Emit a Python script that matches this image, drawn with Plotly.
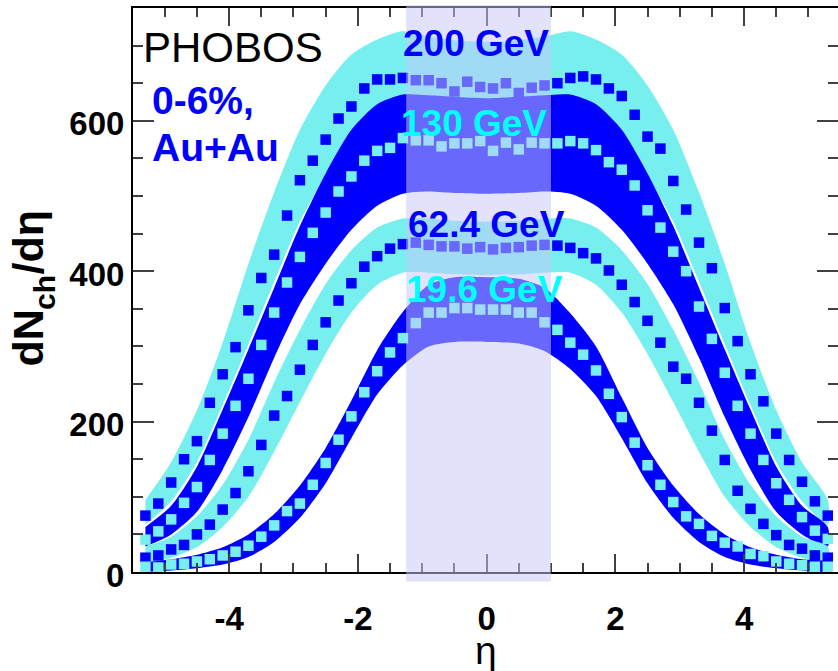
import plotly.graph_objects as go

# ---------------- data ----------------
ETA = [-5.3, -5.1, -4.9, -4.7, -4.5, -4.3, -4.1, -3.9, -3.7, -3.5, -3.3, -3.1, -2.9, -2.7,
       -2.5, -2.3, -2.1, -1.9, -1.7, -1.5, -1.3, -1.1, -0.9, -0.7, -0.5, -0.3, -0.1,
       0.1, 0.3, 0.5, 0.7, 0.9, 1.1, 1.3, 1.5, 1.7, 1.9, 2.1, 2.3, 2.5, 2.7, 2.9, 3.1,
       3.3, 3.5, 3.7, 3.9, 4.1, 4.3, 4.5, 4.7, 4.9, 5.1, 5.3]

DN_200 = [75, 91, 119, 150, 174, 225, 263, 299, 348, 391, 422, 474, 521, 547, 575, 603, 619,
          643, 655, 655, 657, 654, 654, 650, 639, 652, 645,
          643, 650, 637, 644, 647, 650, 657, 659, 655, 643, 633, 608, 579, 563, 520, 482,
          438, 404, 351, 307, 263, 227, 184, 149, 120, 94, 75]
DN_130 = [43, 54, 70, 92, 113, 149, 184, 221, 257, 302, 345, 385, 419, 451, 478, 506, 526,
          547, 560, 564, 577, 574, 574, 566, 570, 570, 573,
          560, 571, 562, 571, 570, 570, 573, 570, 561, 545, 535, 514, 481, 458, 426, 400,
          353, 310, 265, 221, 184, 149, 118, 96, 73, 55, 44]
DN_62 = [19, 22, 30, 36, 50, 63, 83, 105, 134, 169, 208, 234, 269, 302, 332, 361, 384,
         406, 420, 430, 436, 438, 435, 433, 433, 430, 432,
         429, 431, 432, 434, 435, 434, 431, 424, 417, 401, 382, 359, 334, 305, 273, 257,
         225, 188, 149, 108, 84, 64, 49, 36, 31, 22, 19]
DN_19 = [7, 6, 10, 11, 14, 17, 22, 27, 35, 47, 62, 81, 91, 116, 145, 176, 207,
         239, 267, 292, 311, 331, 345, 345, 351, 351, 349,
         349, 349, 345, 345, 332, 322, 305, 289, 268, 237, 206, 172, 142, 116, 93, 74,
         64, 48, 39, 34, 24, 21, 14, 11, 9, 7, 7]

# systematic-error bands (upper / lower edges)
BAND_ETA = [-5.3, -4.9, -4.5, -4.1, -3.7, -3.3, -2.9, -2.5, -2.1, -1.7, -1.3, -0.9, -0.5, 0.0,
            0.5, 0.9, 1.3, 1.7, 2.1, 2.5, 2.9, 3.3, 3.7, 4.1, 4.5, 4.9, 5.3]
BAND_200_HI = [96, 146, 215, 305, 410, 505, 588, 647, 688, 708, 719, 712, 707, 705,
               707, 712, 719, 708, 688, 647, 588, 505, 410, 305, 215, 146, 96]
BAND_200_LO = [63, 94, 146, 222, 303, 386, 466, 526, 570, 595, 598, 596, 594, 592,
               594, 596, 598, 595, 570, 526, 466, 386, 303, 222, 146, 94, 63]
BAND_130_HI = [60, 88, 140, 216, 296, 378, 460, 530, 588, 622, 635, 634, 632, 630,
               632, 634, 635, 622, 588, 530, 460, 378, 296, 216, 140, 88, 60]
BAND_130_LO = [34, 50, 80, 136, 206, 285, 356, 410, 455, 487, 503, 506, 504, 503,
               504, 506, 503, 487, 455, 410, 356, 285, 206, 136, 80, 50, 34]
BAND_62_HI = [34, 47, 74, 116, 176, 252, 322, 383, 428, 458, 470, 470, 467, 466,
              467, 470, 470, 458, 428, 383, 322, 252, 176, 116, 74, 47, 34]
BAND_62_LO = [12, 19, 33, 60, 100, 160, 226, 290, 345, 382, 398, 398, 396, 395,
              396, 398, 398, 382, 345, 290, 226, 160, 100, 60, 33, 19, 12]
BAND_19_HI = [13, 17, 23, 33, 50, 77, 115, 165, 228, 295, 346, 382, 392, 392,
              390, 378, 344, 300, 232, 165, 115, 77, 50, 33, 23, 17, 13]
BAND_19_LO = [0, 2, 5, 10, 20, 40, 72, 118, 178, 236, 275, 300, 306, 306,
              304, 294, 270, 234, 178, 118, 72, 40, 20, 10, 5, 2, 0]

X_TICKS = [-4, -2, 0, 2, 4]
X_TICK_TEXT = ["-4", "-2", "0", "2", "4"]
HIGHLIGHT_ETA = [-1.25, 1.0]

# ---------------- styling ----------------
BLUE = "#0000FF"
CYAN = "#78EFEF"
CYAN_TEXT = "#00FFFF"
FONT = "Liberation Sans, Arial, Helvetica, sans-serif"
W, H = 838, 671
L, T, PW, PH = 133, 8, 705, 564
XR = [-5.493, 5.459]
YR = [0, 750]


def px(x):
    return (x - L) / PW


def py(y):
    return (T + PH - y) / PH


fig = go.Figure()


def add_band(hi, lo, color):
    fig.add_trace(go.Scatter(
        x=BAND_ETA + BAND_ETA[::-1], y=hi + lo[::-1],
        mode="lines", fill="toself", fillcolor=color,
        line=dict(width=0, color=color, shape="spline", smoothing=0.7),
        hoverinfo="skip", showlegend=False))


def add_points(vals, color):
    fig.add_trace(go.Scatter(
        x=ETA, y=vals, mode="markers",
        marker=dict(symbol="square", size=10.5, color=color, line=dict(width=0)),
        showlegend=False))


add_band(BAND_200_HI, BAND_200_LO, CYAN)
add_band(BAND_130_HI, BAND_130_LO, BLUE)
add_band(BAND_62_HI, BAND_62_LO, CYAN)
add_band(BAND_19_HI, BAND_19_LO, BLUE)
add_points(DN_200, BLUE)
add_points(DN_130, CYAN)
add_points(DN_62, BLUE)
add_points(DN_19, CYAN)

# highlighted mid-rapidity region (drawn above the data)
x0p = (HIGHLIGHT_ETA[0] - XR[0]) / (XR[1] - XR[0])
x1p = (HIGHLIGHT_ETA[1] - XR[0]) / (XR[1] - XR[0])
fig.add_shape(type="rect", xref="paper", yref="paper", x0=x0p, x1=x1p,
              y0=py(581.5), y1=py(5), fillcolor="rgb(200,200,250)", opacity=0.52,
              line=dict(width=0), layer="above")

tick_common = dict(ticks="inside", tickcolor="#404040", tickwidth=1.5,
                   showgrid=False, zeroline=False, showline=True, linecolor="black",
                   linewidth=2, mirror="ticks", automargin=False)

fig.update_xaxes(range=XR, tickmode="array", tickvals=X_TICKS, ticktext=X_TICK_TEXT,
                 ticklen=18, ticklabelstandoff=16,
                 minor=dict(ticks="inside", ticklen=9, tickmode="linear", tick0=0, dtick=0.5,
                            tickcolor="#404040", tickwidth=1.5),
                 tickfont=dict(family=FONT, size=33, color="black", weight="bold"),
                 **tick_common)
fig.update_yaxes(range=YR, tickmode="linear", tick0=0, dtick=200, ticklen=21,
                 ticklabelshift=3,
                 minor=dict(ticks="inside", ticklen=10, tickmode="linear", tick0=0, dtick=50,
                            tickcolor="#404040", tickwidth=1.5),
                 tickfont=dict(family=FONT, size=33, color="black", weight="bold"),
                 **tick_common)

ann = []


def label(text, x, y, size, color, bold=True, xanchor="left", angle=0):
    ann.append(dict(text=text, xref="paper", yref="paper", x=px(x), y=py(y),
                    xanchor=xanchor, yanchor="middle", showarrow=False, textangle=angle,
                    font=dict(family=FONT, size=size, color=color,
                              weight="bold" if bold else "normal")))


label("PHOBOS", 141, 48, 42, "black", bold=False)
label("0-6%,", 150, 100, 39, BLUE)
label("Au+Au", 150, 147, 39, BLUE)
label("200 GeV", 401, 44, 37, BLUE)
label("130 GeV", 399, 123, 37, CYAN_TEXT)
label("62.4 GeV", 406, 225, 37, BLUE)
label("19.6 GeV", 404, 289, 37, CYAN_TEXT)

# axis titles: y title "dN_ch/dη" (rotated, built from its three parts), x title "η"
label("dN", 27, 338.5, 43, "black", xanchor="center", angle=-90)
label("ch", 44.5, 292.5, 30, "black", xanchor="center", angle=-90)
label("/dη", 27, 242.5, 43, "black", xanchor="center", angle=-90)
label("η", 486, 650, 39, "black", bold=False, xanchor="center")

fig.update_layout(width=W, height=H, margin=dict(l=L, r=W - L - PW, t=T, b=H - T - PH),
                  paper_bgcolor="white", plot_bgcolor="white", template="none",
                  showlegend=False, annotations=ann)

fig.write_html("out.html")
